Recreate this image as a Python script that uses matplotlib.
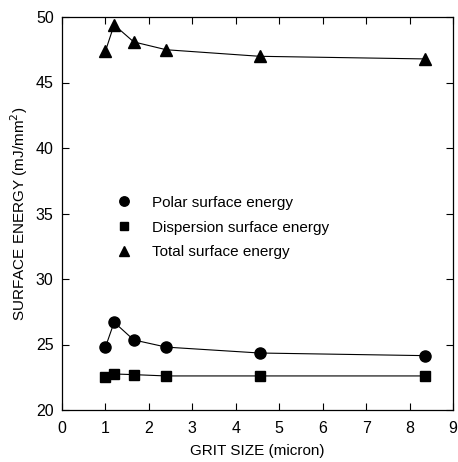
import matplotlib
matplotlib.use("Agg")
import matplotlib.pyplot as plt

plt.rcParams['font.family'] = ['Liberation Sans', 'DejaVu Sans']

# Données
grit = [1.0, 1.2, 1.65, 2.4, 4.55, 8.35]
polar = [24.8, 26.7, 25.35, 24.8, 24.35, 24.15]
dispersion = [22.5, 22.75, 22.7, 22.6, 22.6, 22.6]
total = [47.4, 49.4, 48.1, 47.5, 47.0, 46.8]

fig = plt.figure(figsize=(4.58, 4.62), dpi=100)
ax = fig.add_axes([62 / 458, 1 - 410 / 462, 391 / 458, 393 / 462])

ax.plot(grit, polar, '-o', color='black', lw=0.8, ms=8, label='Polar surface energy')
ax.plot(grit, dispersion, '-s', color='black', lw=0.8, ms=7.5, label='Dispersion surface energy')
ax.plot(grit, total, '-^', color='black', lw=0.8, ms=8, label='Total surface energy')

ax.set_xlim(0, 9)
ax.set_ylim(20, 50)
ax.set_xticks(range(0, 10))
ax.set_yticks(range(20, 51, 5))
ax.tick_params(direction='in', top=True, right=True, labelsize=11.5, length=5, width=0.8)
ax.tick_params(axis='x', pad=8)
ax.tick_params(axis='y', pad=6)
for s in ax.spines.values():
    s.set_linewidth(0.9)

ax.set_xlabel('GRIT SIZE (micron)', fontsize=11, labelpad=6)
ax.set_ylabel('SURFACE ENERGY (mJ/mm$^2$)', fontsize=11, labelpad=4)

ax.legend(loc='upper left', bbox_to_anchor=(0.10, 0.58), frameon=False,
          fontsize=11, handlelength=1.2, handletextpad=1.2, labelspacing=0.7,
          numpoints=1, markerscale=0.85)
for h in ax.get_legend().legend_handles:
    h.set_linestyle('none')

fig.savefig("out.png", dpi=100)
plt.close()
